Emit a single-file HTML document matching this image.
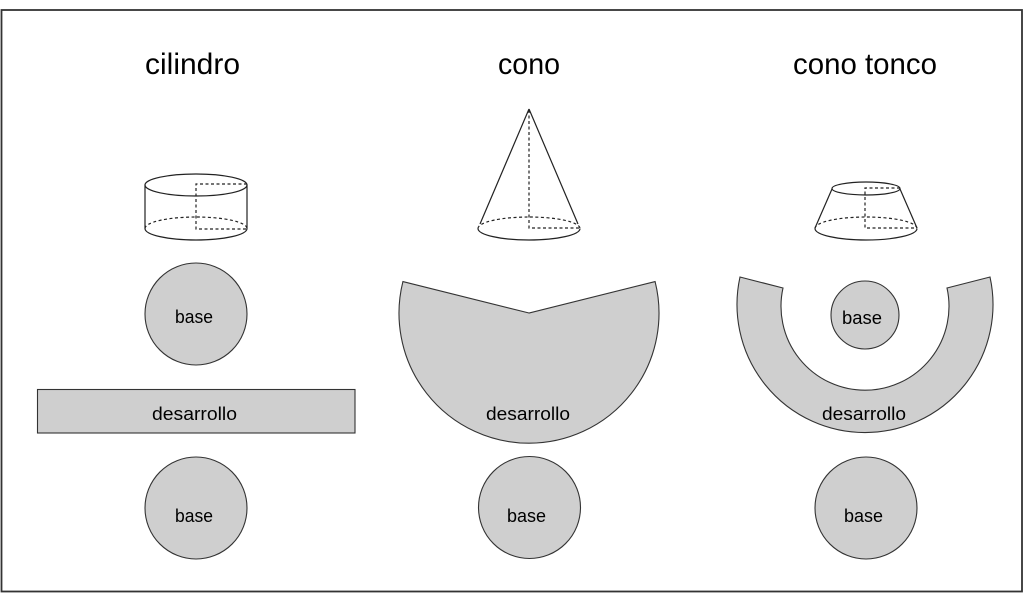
<!DOCTYPE html>
<html>
<head>
<meta charset="utf-8">
<style>
  html,body{margin:0;padding:0;background:#fff;}
  svg{display:block;}
  text{font-family:"Liberation Sans", Arial, sans-serif;fill:#000;}
</style>
</head>
<body>
<svg width="1024" height="602" viewBox="0 0 1024 602" xmlns="http://www.w3.org/2000/svg">
  <rect x="0" y="0" width="1024" height="602" fill="#fff"/>
  <!-- frame -->
  <rect x="1.5" y="10" width="1020.5" height="581.5" fill="none" stroke="#333" stroke-width="1.8"/>

  <!-- titles -->
  <text x="145" y="74" font-size="30" textLength="95" lengthAdjust="spacingAndGlyphs">cilindro</text>
  <text x="498" y="74" font-size="30" textLength="62" lengthAdjust="spacingAndGlyphs">cono</text>
  <text x="793" y="74" font-size="30" textLength="144" lengthAdjust="spacingAndGlyphs">cono tonco</text>

  <g fill="none" stroke="#222" stroke-width="1.2">
    <!-- cylinder -->
    <ellipse cx="196" cy="185" rx="51" ry="11"/>
    <line x1="145" y1="185" x2="145" y2="228.5"/>
    <line x1="247" y1="185" x2="247" y2="228.5"/>
    <path d="M145 228.5 A51 11.5 0 0 0 247 228.5"/>
    <path d="M145 228.5 A51 11.5 0 0 1 247 228.5" stroke-dasharray="3,2.5"/>
    <polyline points="247,184 196,184 196,229 247,229" stroke-dasharray="3,2.5"/>

    <!-- cone -->
    <line x1="529" y1="109" x2="480" y2="224"/>
    <line x1="529" y1="109" x2="578" y2="224"/>
    <path d="M478 228.5 A51 11.5 0 0 0 580 228.5"/>
    <path d="M478 228.5 A51 11.5 0 0 1 580 228.5" stroke-dasharray="3,2.5"/>
    <polyline points="529,110 529,228 580,228" stroke-dasharray="3,2.5"/>

    <!-- frustum -->
    <ellipse cx="866" cy="188.5" rx="34" ry="6.5"/>
    <line x1="832" y1="189" x2="815" y2="228"/>
    <line x1="900" y1="189" x2="917" y2="228"/>
    <path d="M815 228.5 A51 11.5 0 0 0 917 228.5"/>
    <path d="M815 228.5 A51 11.5 0 0 1 917 228.5" stroke-dasharray="3,2.5"/>
    <polyline points="900,188 865,188 865,228 917,228" stroke-dasharray="3,2.5"/>
  </g>

  <g fill="#cfcfcf" stroke="#333" stroke-width="1.1">
    <!-- cylinder developments -->
    <circle cx="196" cy="314" r="51"/>
    <rect x="37.5" y="389.5" width="317.5" height="43.5"/>
    <circle cx="196" cy="508" r="51"/>

    <!-- cone development -->
    <path d="M529 313 L402.9 281.6 A130 130 0 1 0 655.1 281.6 Z"/>
    <circle cx="529.5" cy="507.5" r="51"/>

    <!-- frustum development -->
    <path d="M740 277 A128 128 0 1 0 990 277 L947 288 A84 84 0 1 1 783 288 Z"/>
    <circle cx="865" cy="315" r="34"/>
    <circle cx="866" cy="508" r="51"/>
  </g>

  <!-- labels -->
  <g font-size="18">
    <text x="175" y="323" textLength="38" lengthAdjust="spacingAndGlyphs">base</text>
    <text x="152" y="420" textLength="85" lengthAdjust="spacingAndGlyphs">desarrollo</text>
    <text x="175" y="522" textLength="38" lengthAdjust="spacingAndGlyphs">base</text>

    <text x="486" y="420" textLength="84" lengthAdjust="spacingAndGlyphs">desarrollo</text>
    <text x="507" y="522" textLength="39" lengthAdjust="spacingAndGlyphs">base</text>

    <text x="842" y="324" textLength="40" lengthAdjust="spacingAndGlyphs">base</text>
    <text x="822" y="420" textLength="84" lengthAdjust="spacingAndGlyphs">desarrollo</text>
    <text x="844" y="522" textLength="39" lengthAdjust="spacingAndGlyphs">base</text>
  </g>
</svg>
</body>
</html>
